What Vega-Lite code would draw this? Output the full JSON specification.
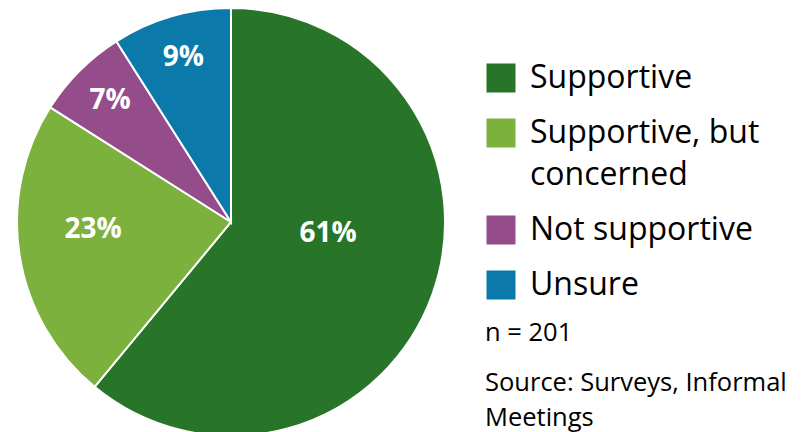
{
  "$schema": "https://vega.github.io/schema/vega-lite/v6.json",
  "width": 462,
  "height": 420,
  "autosize": {"type": "none"},
  "padding": {"left": 0, "top": 12, "right": 343, "bottom": 0},
  "background": "white",
  "config": {
    "view": {"stroke": null},
    "font": "Open Sans",
    "style": {"guide-label": {"lineHeight": 42}}
  },
  "title": {
    "text": ["Source: Surveys, Informal", "Meetings"],
    "orient": "bottom",
    "anchor": "start",
    "frame": "group",
    "offset": 0,
    "dx": 485,
    "dy": -49,
    "baseline": "alphabetic",
    "font": "Open Sans",
    "fontSize": 25.5,
    "fontWeight": "normal",
    "color": "black",
    "lineHeight": 35
  },
  "data": {
    "values": [
      {"category": "Supportive", "value": 61, "order": 1, "label": "61%"},
      {"category": "Supportive, but concerned", "value": 23, "order": 2, "label": "23%"},
      {"category": "Not supportive", "value": 7, "order": 3, "label": "7%"},
      {"category": "Unsure", "value": 9, "order": 4, "label": "9%"}
    ]
  },
  "encoding": {
    "theta": {"field": "value", "type": "quantitative", "stack": true},
    "order": {"field": "order", "type": "quantitative"}
  },
  "layer": [
    {
      "mark": {"type": "arc", "radius": 214, "stroke": "white", "strokeWidth": 2},
      "encoding": {
        "color": {
          "field": "category",
          "type": "nominal",
          "scale": {
            "domain": ["Supportive", "Supportive, but concerned", "Not supportive", "Unsure"],
            "range": ["#287428", "#7CB13E", "#944D8A", "#0B7AAA"]
          },
          "legend": {
            "orient": "none",
            "legendX": 485,
            "legendY": 50,
            "title": "n = 201",
            "titleOrient": "bottom",
            "titleAnchor": "start",
            "titleAlign": "left",
            "titleFont": "Open Sans",
            "titleFontSize": 25.5,
            "titleFontWeight": "normal",
            "titleColor": "black",
            "titlePadding": 20,
            "symbolType": "square",
            "symbolSize": 841,
            "symbolStrokeWidth": 0,
            "symbolOpacity": 1,
            "labelFont": "Open Sans",
            "labelFontSize": 32,
            "labelColor": "black",
            "labelOffset": 13,
            "labelLimit": 400,
            "rowPadding": 23,
            "padding": 0,
            "labelExpr": "datum.label == 'Supportive, but concerned' ? ['Supportive, but', 'concerned'] : datum.label",
            "encode": {"labels": {"update": {"lineHeight": {"value": 42}}}}
          }
        }
      }
    },
    {
      "mark": {"type": "text", "radius": 171, "font": "Open Sans", "fontWeight": "bold", "fontSize": 28, "fill": "white"},
      "encoding": {
        "text": {"condition": {"test": "datum.value < 10", "field": "label", "type": "nominal"}, "value": ""}
      }
    },
    {
      "mark": {"type": "text", "radius": 138, "thetaOffset": 0.1, "font": "Open Sans", "fontWeight": "bold", "fontSize": 28, "fill": "white"},
      "encoding": {
        "text": {"condition": {"test": "datum.category == 'Supportive, but concerned'", "field": "label", "type": "nominal"}, "value": ""}
      }
    },
    {
      "mark": {"type": "text", "radius": 98, "thetaOffset": -0.22, "font": "Open Sans", "fontWeight": "bold", "fontSize": 28, "fill": "white"},
      "encoding": {
        "text": {"condition": {"test": "datum.category == 'Supportive'", "field": "label", "type": "nominal"}, "value": ""}
      }
    }
  ]
}
